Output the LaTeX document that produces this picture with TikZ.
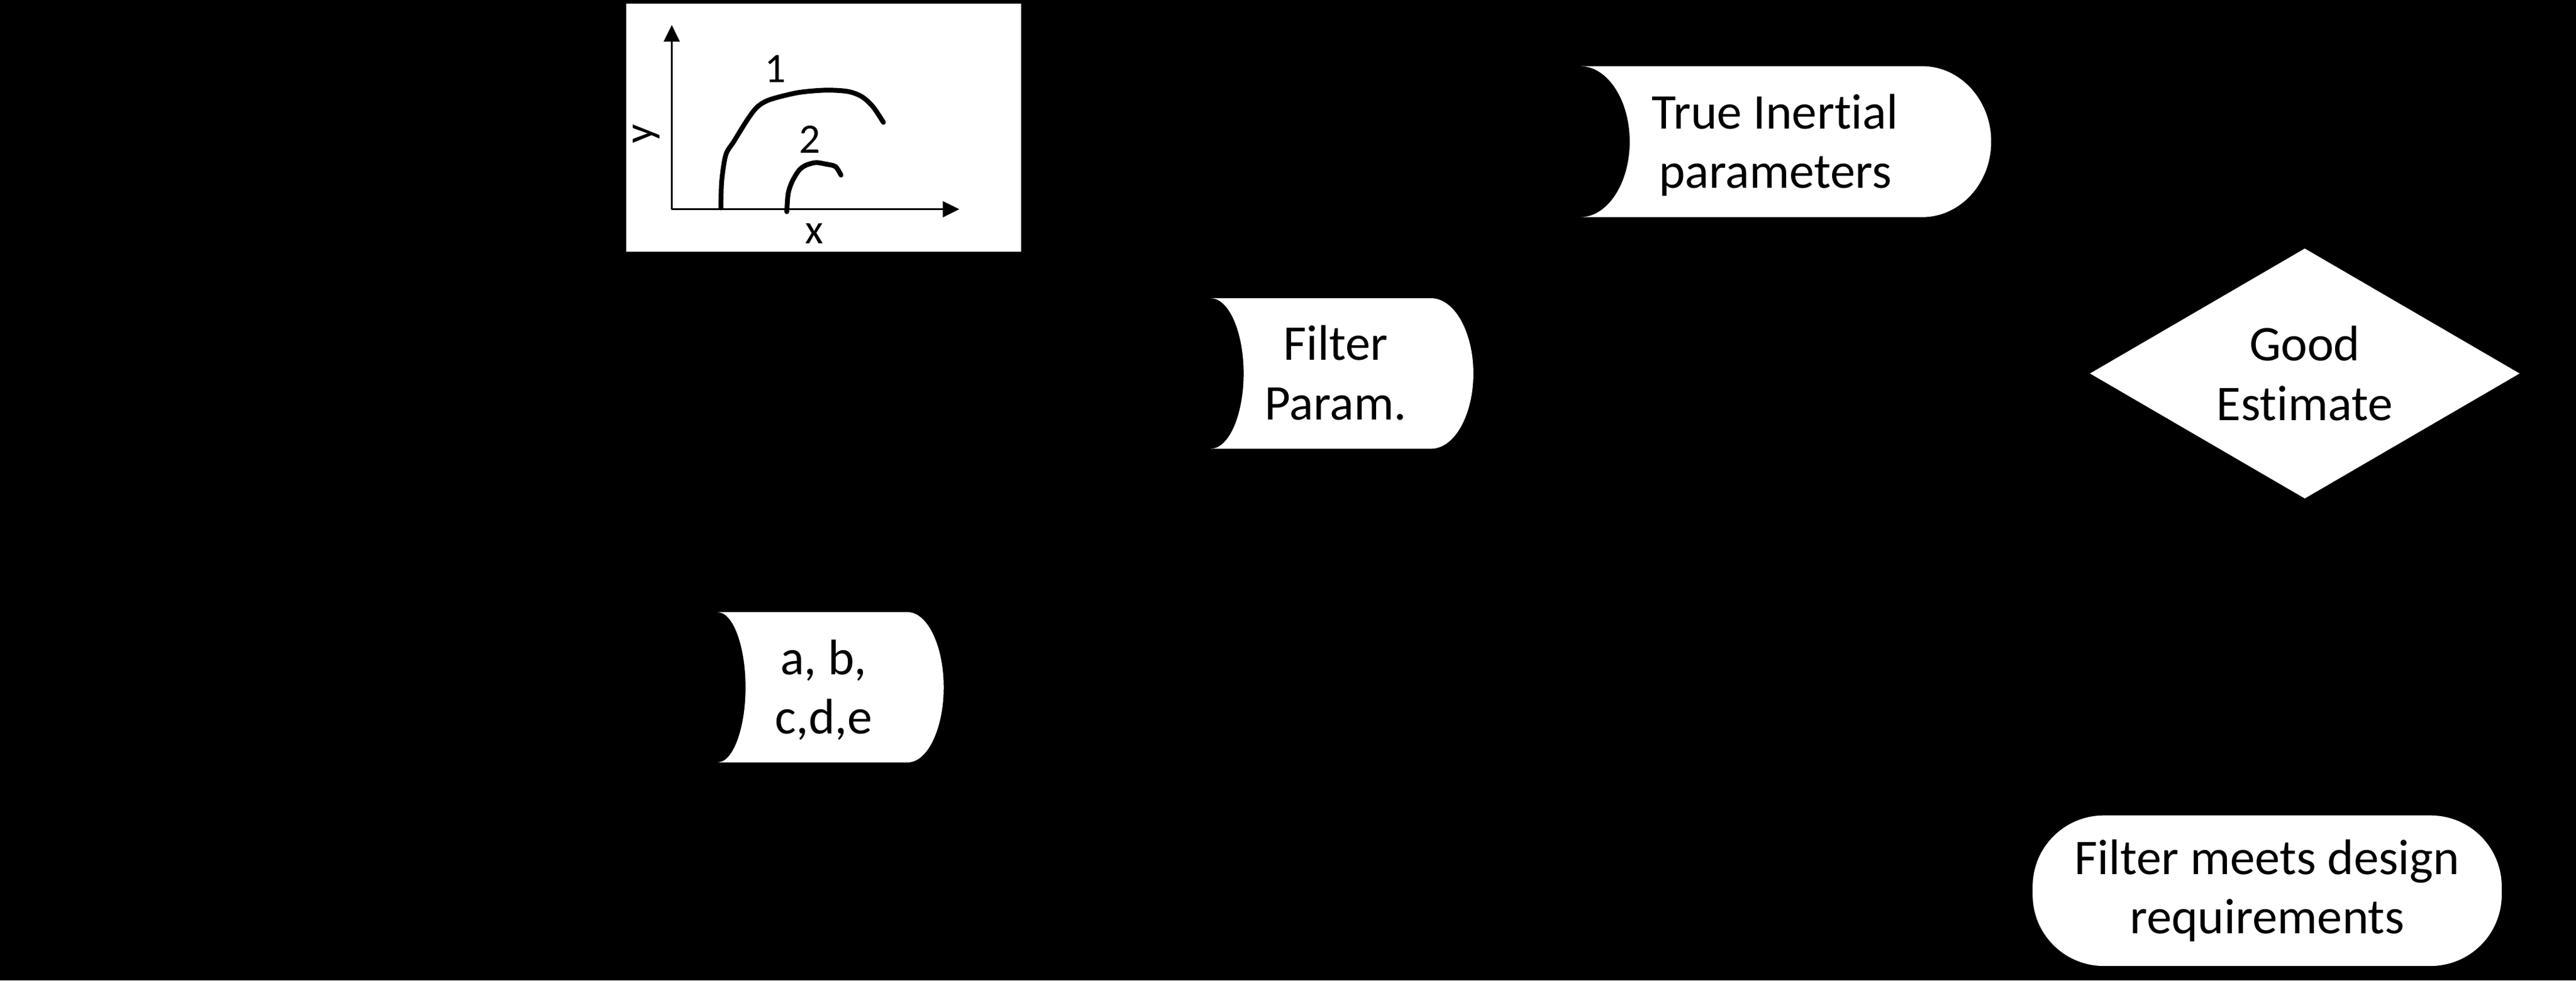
\documentclass[tikz,border=0pt]{standalone}
\usepackage{fontspec}
\setmainfont{Carlito}[Ligatures=NoCommon]
\usepackage{tikz}
\usetikzlibrary{arrows.meta,shapes.geometric}

\newcommand{\boxfont}{\fontsize{26}{30.9}\selectfont}
\newcommand{\axfont}{\fontsize{21.8}{26}\selectfont}
% stored data shape: left x, top y, right x, bottom y, inner dent, right radius
\newcommand{\storedata}[6]{%
  \fill[white] (#1,#2) -- ({#3-#6},#2)
    .. controls ({#3-0.448*#6},#2) and (#3,{(#2+#4)/2-0.276*(#4-#2)}) .. (#3,{(#2+#4)/2})
    .. controls (#3,{(#2+#4)/2+0.276*(#4-#2)}) and ({#3-0.448*#6},#4) .. ({#3-#6},#4)
    -- (#1,#4)
    .. controls ({#1+0.552*#5},#4) and ({#1+#5},{(#2+#4)/2+0.276*(#4-#2)}) .. ({#1+#5},{(#2+#4)/2})
    .. controls ({#1+#5},{(#2+#4)/2-0.276*(#4-#2)}) and ({#1+0.552*#5},#2) .. cycle;}

\tikzset{
  lbl/.style={inner sep=0pt, align=center, font=\boxfont},
  axlbl/.style={inner sep=0pt, font=\axfont, anchor=base},
  curve/.style={line width=2.5pt, line cap=round, smooth},
  axis/.style={line width=0.85pt, -{Triangle[length=0.3cm,width=0.29cm]}}
}

\begin{document}
\begin{tikzpicture}[x=0.03cm,y=-0.03cm]
  \fill[black] (0,0) rectangle (1568,597);

  % plot
  \node[fill=white, inner sep=0pt, anchor=north west, minimum width=7.22cm, minimum height=4.54cm] (plotbox) at (380.8,1.8) {};
  \coordinate (org) at (408.9,127.4);
  \coordinate (ytip) at (408.9,15.3);
  \coordinate (xtip) at (583.9,127.4);
  \draw[axis] (org) -- (ytip);
  \draw[axis] (org) -- (xtip);
  \draw[curve] plot coordinates {(438.8,126.6) (439.3,110.3) (441.8,94.3) (446.9,85.8) (455.3,72.3) (461.2,64.9) (468.8,60.6) (485.7,56.4) (502.6,54.9) (516.1,55.7) (524.5,58.8) (531.3,64.9) (537.7,74.5)};
  \draw[curve] plot coordinates {(478.9,128.9) (479.8,117.6) (482.3,110.3) (486.5,103.5) (490.8,100.5) (496.6,99.0) (502.6,99.9) (508.5,101.4) (511.9,106.6)};
  \node[axlbl] (one) at (472,50.2) {1};
  \node[axlbl] (two) at (492.9,93.1) {2};
  \node[axlbl] (xlab) at (495.8,148.2) {x};
  \node[axlbl, rotate=90] (ylab) at (397.5,81.5) {y};

  % stored data
  \storedata{962}{40.3}{1212}{132.2}{30}{42}
  \node[lbl] (truepar) at (1080.5,88.4) {True Inertial\\parameters};
  \storedata{737}{181.6}{896.8}{273.2}{20}{25.7}
  \node[lbl] (filtpar) at (813,227) {Filter\\Param.};
  \storedata{436.8}{372.7}{574.4}{464.2}{17}{22}
  \node[lbl] (coeffs) at (501.3,420.2) {a, b,\\c,d,e};

  % decision and end
  \node[lbl, diamond, aspect=1.718, fill=white, minimum width=7.85cm, minimum height=4.57cm] (goodest) at (1402.9,227.4) {Good\\Estimate};
  \node[lbl, fill=white, rounded corners=1.3cm, minimum width=8.565cm, minimum height=2.75cm] (meetsreq) at (1380,542.3) {Filter meets design\\requirements};
\end{tikzpicture}
\end{document}
